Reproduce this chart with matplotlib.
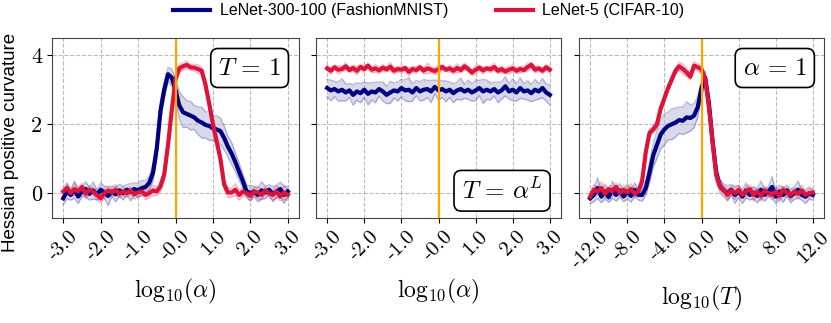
import numpy as np
import matplotlib
matplotlib.use("Agg")
import matplotlib.pyplot as plt

plt.rcParams['mathtext.fontset'] = 'cm'
plt.rcParams['axes.unicode_minus'] = False

# x grids (log10 of the swept quantity)
x_alpha = np.linspace(-3, 3, 61)
x_T = np.linspace(-12, 12, 61)

# panel 1: T = 1, sweep alpha
p1_blue = [-0.15, 0.05, -0.05, 0.10, -0.10, 0.05, 0.12, -0.02, 0.08, -0.05,
           0.10, 0.02, -0.08, 0.05, -0.03, 0.08, 0.00, 0.10, 0.03, 0.12,
           0.08, 0.15, 0.18, 0.30, 0.60, 1.30, 2.40, 3.00, 3.45, 3.35,
           3.00, 2.55, 2.35, 2.30, 2.25, 2.20, 2.10, 2.05, 1.98, 1.95,
           1.88, 1.85, 1.80, 1.60, 1.35, 1.15, 0.90, 0.62, 0.35, 0.05,
           0.00, 0.05, -0.05, 0.08, 0.02, 0.10, -0.03, 0.05, 0.12, -0.05, 0.05]
p1_blue_sd = [0.18, 0.22, 0.15, 0.25, 0.20, 0.15, 0.22, 0.18, 0.25, 0.15,
              0.20, 0.18, 0.28, 0.15, 0.22, 0.18, 0.20, 0.15, 0.25, 0.18,
              0.20, 0.22, 0.18, 0.20, 0.25, 0.30, 0.30, 0.25, 0.20, 0.25,
              0.30, 0.40, 0.45, 0.38, 0.42, 0.35, 0.40, 0.45, 0.38, 0.42,
              0.35, 0.40, 0.38, 0.35, 0.30, 0.32, 0.28, 0.25, 0.20, 0.18,
              0.22, 0.15, 0.20, 0.25, 0.18, 0.15, 0.22, 0.18, 0.20, 0.25, 0.15]
p1_red = [0.05, 0.15, 0.00, 0.12, 0.05, 0.18, -0.02, 0.10, 0.05, -0.05,
          -0.15, 0.00, 0.08, 0.02, 0.10, -0.02, 0.05, 0.00, 0.08, -0.03,
          0.02, 0.05, -0.05, 0.00, 0.08, 0.05, 0.20, 0.55, 1.40, 2.40,
          3.30, 3.62, 3.68, 3.72, 3.65, 3.64, 3.60, 3.55, 3.15, 2.60,
          2.00, 1.50, 1.00, 0.25, 0.02, 0.02, 0.10, -0.05, 0.05, 0.00,
          -0.08, 0.05, 0.02, -0.05, 0.08, 0.00, -0.05, 0.05, -0.10, 0.02, -0.05]
p1_red_sd = [0.12, 0.15, 0.10, 0.18, 0.12, 0.10, 0.15, 0.12, 0.10, 0.14,
             0.12, 0.16, 0.10, 0.12, 0.15, 0.10, 0.13, 0.12, 0.10, 0.15,
             0.12, 0.10, 0.14, 0.12, 0.15, 0.12, 0.15, 0.18, 0.15, 0.12,
             0.10, 0.12, 0.10, 0.12, 0.08, 0.10, 0.12, 0.10, 0.15, 0.18,
             0.20, 0.18, 0.15, 0.12, 0.15, 0.12, 0.18, 0.15, 0.12, 0.10,
             0.15, 0.12, 0.18, 0.15, 0.10, 0.12, 0.15, 0.18, 0.12, 0.20, 0.15]

# panel 2: T = alpha^L, sweep alpha
p2_blue = [3.05, 2.98, 3.02, 2.95, 3.00, 2.92, 2.98, 2.85, 2.95, 2.90,
           3.00, 2.88, 2.95, 2.92, 3.02, 2.95, 2.85, 2.92, 2.98, 2.95,
           3.05, 2.98, 3.00, 2.92, 3.05, 2.95, 3.00, 3.02, 2.95, 3.08,
           2.98, 3.02, 2.95, 3.00, 2.90, 2.98, 3.02, 2.95, 3.00, 2.92,
           2.98, 3.05, 2.95, 3.00, 2.95, 3.02, 2.92, 2.98, 3.10, 2.95,
           3.00, 2.92, 3.05, 2.95, 2.98, 2.90, 3.00, 2.95, 3.05, 2.92, 2.85]
p2_blue_sd = [0.25, 0.30, 0.22, 0.28, 0.32, 0.25, 0.20, 0.30, 0.25, 0.28,
              0.22, 0.32, 0.25, 0.30, 0.20, 0.28, 0.25, 0.32, 0.22, 0.28,
              0.25, 0.30, 0.35, 0.25, 0.22, 0.28, 0.30, 0.25, 0.32, 0.20,
              0.28, 0.25, 0.30, 0.22, 0.28, 0.25, 0.32, 0.20, 0.28, 0.25,
              0.30, 0.22, 0.35, 0.28, 0.25, 0.20, 0.30, 0.25, 0.28, 0.22,
              0.32, 0.25, 0.30, 0.22, 0.28, 0.25, 0.30, 0.22, 0.28, 0.25, 0.30]
p2_red = [3.62, 3.55, 3.65, 3.58, 3.60, 3.68, 3.57, 3.63, 3.55, 3.66,
          3.60, 3.70, 3.58, 3.62, 3.56, 3.64, 3.59, 3.67, 3.55, 3.60,
          3.58, 3.63, 3.52, 3.60, 3.57, 3.65, 3.55, 3.62, 3.58, 3.54,
          3.60, 3.66, 3.58, 3.62, 3.55, 3.63, 3.57, 3.68, 3.60, 3.50,
          3.58, 3.64, 3.56, 3.62, 3.59, 3.66, 3.55, 3.60, 3.53, 3.58,
          3.62, 3.55, 3.60, 3.57, 3.66, 3.72, 3.58, 3.62, 3.55, 3.65, 3.58]
p2_red_sd = [0.08, 0.10, 0.06, 0.12, 0.08, 0.10, 0.07, 0.09, 0.12, 0.08,
             0.10, 0.06, 0.09, 0.11, 0.08, 0.10, 0.07, 0.12, 0.09, 0.08,
             0.10, 0.06, 0.12, 0.08, 0.10, 0.07, 0.09, 0.15, 0.08, 0.10,
             0.12, 0.08, 0.06, 0.10, 0.09, 0.12, 0.08, 0.10, 0.07, 0.09,
             0.12, 0.08, 0.10, 0.06, 0.09, 0.11, 0.08, 0.10, 0.07, 0.12,
             0.09, 0.08, 0.10, 0.06, 0.12, 0.08, 0.10, 0.07, 0.09, 0.08, 0.10]

# panel 3: alpha = 1, sweep T
p3_blue = [-0.15, -0.05, 0.15, -0.10, 0.05, -0.12, 0.10, -0.05, 0.08, -0.10,
           0.05, -0.08, 0.10, -0.05, -0.05, 0.15, 0.60, 1.10, 1.40, 1.70,
           1.85, 1.95, 2.00, 2.05, 2.12, 2.10, 2.20, 2.18, 2.25, 2.50,
           3.05, 3.35, 2.60, 1.50, 0.57, 0.20, 0.08, 0.00, 0.10, -0.05,
           0.05, -0.10, 0.08, -0.05, 0.02, -0.08, 0.10, -0.05, 0.05, 0.18,
           -0.10, 0.05, -0.05, 0.08, -0.08, 0.00, 0.10, -0.05, -0.10, 0.00, -0.05]
p3_blue_sd = [0.15, 0.20, 0.30, 0.18, 0.22, 0.15, 0.25, 0.18, 0.20, 0.15,
              0.22, 0.18, 0.20, 0.15, 0.18, 0.20, 0.30, 0.35, 0.40, 0.42,
              0.45, 0.40, 0.45, 0.42, 0.38, 0.40, 0.45, 0.38, 0.35, 0.30,
              0.25, 0.20, 0.20, 0.22, 0.25, 0.20, 0.18, 0.22, 0.15, 0.25,
              0.18, 0.20, 0.22, 0.15, 0.18, 0.20, 0.25, 0.18, 0.15, 0.30,
              0.20, 0.18, 0.22, 0.15, 0.20, 0.18, 0.25, 0.15, 0.20, 0.18, 0.15]
p3_red = [-0.10, 0.10, 0.05, 0.15, -0.02, 0.12, 0.05, 0.18, 0.00, 0.10,
          0.02, 0.12, -0.02, 0.05, 0.35, 1.20, 1.75, 1.85, 2.00, 2.45,
          2.75, 3.05, 3.30, 3.55, 3.68, 3.60, 3.50, 3.38, 3.70, 3.65,
          3.60, 3.30, 2.50, 1.45, 0.50, 0.20, 0.10, -0.05, 0.08, 0.00,
          0.10, -0.05, 0.05, 0.12, -0.05, 0.05, -0.08, 0.08, 0.00, -0.05,
          0.05, -0.08, 0.10, 0.02, -0.05, 0.05, -0.02, 0.08, -0.05, 0.00, 0.02]
p3_red_sd = [0.12, 0.15, 0.10, 0.18, 0.12, 0.10, 0.15, 0.12, 0.10, 0.14,
             0.12, 0.16, 0.10, 0.12, 0.15, 0.15, 0.12, 0.10, 0.12, 0.10,
             0.12, 0.10, 0.12, 0.10, 0.12, 0.15, 0.12, 0.10, 0.12, 0.10,
             0.12, 0.10, 0.15, 0.18, 0.15, 0.12, 0.10, 0.15, 0.12, 0.18,
             0.12, 0.10, 0.15, 0.12, 0.18, 0.10, 0.15, 0.12, 0.10, 0.15,
             0.12, 0.18, 0.10, 0.12, 0.15, 0.10, 0.12, 0.15, 0.10, 0.12, 0.10]

ticks_alpha = [-3, -2, -1, 0, 1, 2, 3]
labels_alpha = ["-3.0", "-2.0", "-1.0", "-0.0", "1.0", "2.0", "3.0"]
ticks_T = [-12, -8, -4, 0, 4, 8, 12]
labels_T = ["-12.0", "-8.0", "-4.0", "-0.0", "4.0", "8.0", "12.0"]

BLUE = "#000080"
RED = "#dc143c"

fig = plt.figure(figsize=(8.31, 3.23), dpi=100)
W, H = 831, 323
boxes = [(52, 299), (316, 561), (579, 824)]
axes = []
for l, r in boxes:
    axes.append(fig.add_axes([l / W, (H - 218) / H, (r - l) / W, 180 / H]))

panels = [
    (x_alpha, p1_blue, p1_blue_sd, p1_red, p1_red_sd, ticks_alpha, labels_alpha, r"$\mathrm{log}_{10}(\alpha)$"),
    (x_alpha, p2_blue, p2_blue_sd, p2_red, p2_red_sd, ticks_alpha, labels_alpha, r"$\mathrm{log}_{10}(\alpha)$"),
    (x_T, p3_blue, p3_blue_sd, p3_red, p3_red_sd, ticks_T, labels_T, r"$\mathrm{log}_{10}(T)$"),
]

for ax, (x, b, bs, r, rs, tks, tls, xl) in zip(axes, panels):
    for m, s, c in [(b, bs, BLUE), (r, rs, RED)]:
        m = np.array(m)
        s = np.array(s)
        ax.fill_between(x, m - s, m + s, color=c, alpha=0.15, lw=0)
        ax.plot(x, m - s, color=c, alpha=0.25, lw=1)
        ax.plot(x, m + s, color=c, alpha=0.25, lw=1)
    ax.plot(x, b, color=BLUE, lw=3)
    ax.plot(x, r, color=RED, lw=3)
    ax.axvline(0, color="orange", lw=1.6)
    ax.set_ylim(-0.72, 4.5)
    ax.set_yticks([0, 2, 4])
    ax.set_xticks(tks)
    ax.set_xticklabels(tls, rotation=45, family="cmr10", fontsize=15)
    ax.grid(True, ls="--", color="#bbbbbb", lw=0.8)
    for sp in ax.spines.values():
        sp.set_color("#444444")
    ax.set_xlabel(xl, fontsize=17, labelpad=9)

axes[0].set_yticklabels(["0", "2", "4"], family="cmr10", fontsize=16)
axes[1].set_yticklabels([])
axes[2].set_yticklabels([])
axes[0].set_ylabel("Hessian positive curvature", family="Liberation Sans", fontsize=13.5)
axes[0].yaxis.set_label_coords(-0.135, 0.42)

bbox = dict(boxstyle="round,pad=0.3", fc="white", ec="black", lw=1.2)
axes[0].text(0.927, 0.9, r"$T\,=\,1$", transform=axes[0].transAxes, ha="right",
             va="top", fontsize=18, bbox=bbox)
axes[1].text(0.925, 0.08, r"$T\,=\,\alpha^L$", transform=axes[1].transAxes, ha="right",
             va="bottom", fontsize=18, bbox=bbox)
axes[2].text(0.93, 0.9, r"$\alpha\,=\,1$", transform=axes[2].transAxes, ha="right",
             va="top", fontsize=18, bbox=bbox)

h1, = axes[0].plot([], [], color=BLUE, lw=3)
h2, = axes[0].plot([], [], color=RED, lw=3)
fig.legend([h1, h2], ["LeNet-300-100 (FashionMNIST)", "LeNet-5 (CIFAR-10)"],
           loc="center", bbox_to_anchor=(0.516, 0.967), ncol=2, frameon=False,
           prop={"family": "Liberation Sans", "size": 11.5}, handlelength=2.3,
           handletextpad=0.6, columnspacing=3.0)

fig.savefig("out.png", dpi=100)
